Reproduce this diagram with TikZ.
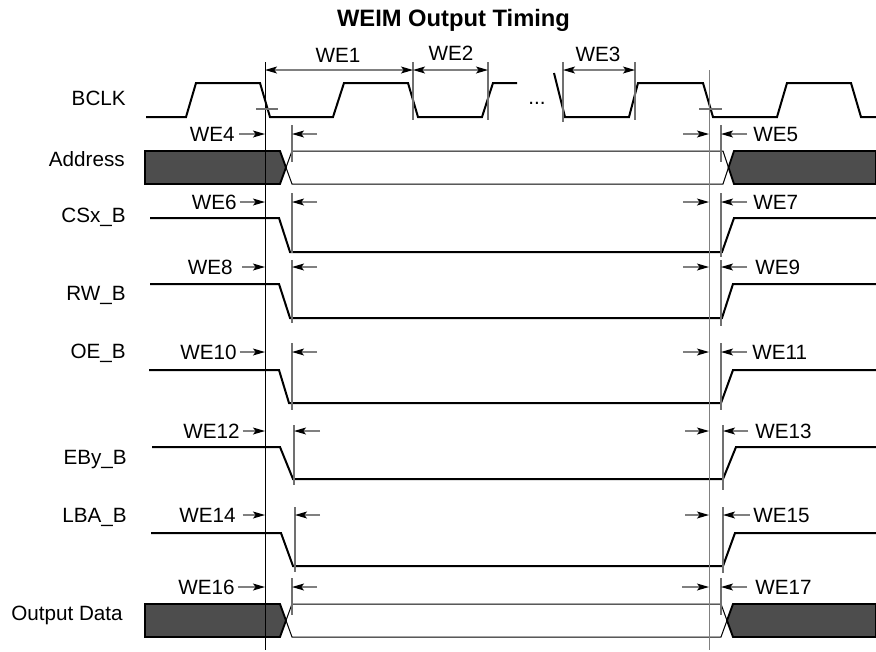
\documentclass[tikz,border=0pt]{standalone}
\usepackage{fontspec}
\setmainfont{Liberation Sans}
\usetikzlibrary{arrows.meta}
\definecolor{busfill}{HTML}{4D4D4D}
\definecolor{tickgray}{HTML}{707070}

\begin{document}
\begin{tikzpicture}[x=0.75pt, y=-0.75pt,
	sig/.style={line width=1.5pt},
	busline/.style={line width=0.75pt},
	busdark/.style={fill=busfill, draw=black, line width=1.4pt},
	refline/.style={line width=0.7pt},
	marker/.style={line width=0.8pt, draw=tickgray},
	dimarrow/.style={line width=0.9pt, draw=gray, -{Stealth[length=9pt, width=5.2pt, inset=2pt, black]}},
	twoarrow/.style={line width=0.9pt, draw=gray, {Stealth[length=9pt, width=5.2pt, inset=2pt, black]}-{Stealth[length=9pt, width=5.2pt, inset=2pt, black]}},
	siglabel/.style={anchor=base east, inner sep=0pt, font=\fontsize{15.5}{18}\selectfont},
	welabel/.style={inner sep=0pt, font=\fontsize{15.5}{18}\selectfont}]
	\useasboundingbox (0,0) rectangle (876,651);
	% Title
	\node[anchor=base, inner sep=0pt, font=\fontsize{17.8}{21}\selectfont\bfseries] (title) at (453.5,26) {WEIM Output Timing};
	% Signal names
	\node[siglabel] (bclk) at (126,105.4) {BCLK};
	\node[siglabel] (addr) at (125,166.4) {Address};
	\node[siglabel] (csx) at (126,222.4) {CSx\_B};
	\node[siglabel] (rw) at (126,300.4) {RW\_B};
	\node[siglabel] (oe) at (126,358.4) {OE\_B};
	\node[siglabel] (eby) at (127,464.4) {EBy\_B};
	\node[siglabel] (lba) at (127,522.4) {LBA\_B};
	\node[siglabel] (dout) at (123,620.4) {Output Data};
	% Clock
	\draw[sig] (146,117) -- (186,117) -- (196,83) -- (260,83) -- (270,117) -- (333,117) -- (344,83) -- (408,83) -- (418,117) -- (482,117) -- (493,83) -- (517,83);
	\draw[sig] (554,73) -- (565,117) -- (629,117) -- (638,83) -- (703,83) -- (713,117) -- (777,117) -- (787,83) -- (851,83) -- (861,117) -- (876,117);
	\node[welabel, anchor=base] (gap) at (537,104) {...};
	% Clock periods
	\draw[marker] (413,62) -- (413,120);
	\draw[marker] (488,62) -- (488,120);
	\draw[marker] (563,62) -- (563,122);
	\draw[marker] (635,62) -- (635,120);
	\draw[twoarrow] (265,70) -- (413,70);
	\draw[twoarrow] (413,70) -- (488,70);
	\draw[twoarrow] (563,70) -- (635,70);
	\node[welabel] (we1) at (338,55) {WE1};
	\node[welabel] (we2) at (451,53) {WE2};
	\node[welabel] (we3) at (598,54) {WE3};
	% Buses
	\draw[busdark] (145,151) -- (280,151) -- (286,167.5) -- (280,184) -- (145,184) -- cycle;
	\draw[busline] (286,167.5) -- (292,151) -- (723,151) -- (728.5,167.5) -- (723,184) -- (292,184) -- cycle;
	\draw[busdark] (728.5,167.5) -- (734,151) -- (876,151) -- (876,184) -- (734,184) -- cycle;
	\draw[busdark] (145,604) -- (280,604) -- (286,620.5) -- (280,637) -- (145,637) -- cycle;
	\draw[busline] (286,620.5) -- (292,604) -- (721,604) -- (727,620.5) -- (721,637) -- (292,637) -- cycle;
	\draw[busdark] (727,620.5) -- (733,604) -- (876,604) -- (876,637) -- (733,637) -- cycle;
	% Control signals
	\draw[sig] (150,218) -- (279,218) -- (290,252) -- (722,252) -- (734,218) -- (876,218);
	\draw[sig] (150,284) -- (279,284) -- (290,318) -- (722,318) -- (733,284) -- (876,284);
	\draw[sig] (149,370) -- (279,370) -- (289,403) -- (721,403) -- (733,370) -- (876,370);
	\draw[sig] (152,447) -- (280,447) -- (293,479) -- (723,479) -- (736,447) -- (876,447);
	\draw[sig] (151,533) -- (281,533) -- (293,566) -- (723,566) -- (735,533) -- (876,533);
	% Reference edges
	\coordinate (L) at (265,0);
	\coordinate (R) at (709,0);
	\draw[refline] (265,62) -- (265,650);
	\draw[refline, gray] (709,70) -- (709,650);
	\draw[marker] (256,109) -- (278,109);
	\draw[marker] (699,109) -- (722,109);
	% Address
	\node[welabel, anchor=east] (we4) at (235,134) {WE4};
	\draw[dimarrow] ([xshift=3pt]we4.east) -- (we4.east -| L);
	\draw[marker] (292,125) -- (292,162);
	\draw[dimarrow] (317,134) -- (292,134);
	\draw[dimarrow] (683,134) -- (R |- we4.east);
	\draw[marker] (721,125) -- (721,162);
	\node[welabel, anchor=west] (we5) at (753,134) {WE5};
	\draw[dimarrow] ([xshift=-4.5pt]we5.west) -- (721,134);
	% CSx_B
	\node[welabel, anchor=east] (we6) at (237,202) {WE6};
	\draw[dimarrow] ([xshift=2pt]we6.east) -- (we6.east -| L);
	\draw[marker] (292,193) -- (292,253);
	\draw[dimarrow] (317,202) -- (292,202);
	\draw[dimarrow] (683,202) -- (R |- we6.east);
	\draw[marker] (721,193) -- (721,257);
	\node[welabel, anchor=west] (we7) at (753,202) {WE7};
	\draw[dimarrow] ([xshift=-4.5pt]we7.west) -- (721,202);
	% RW_B
	\node[welabel, anchor=east] (we8) at (233,267) {WE8};
	\draw[dimarrow] ([xshift=7pt]we8.east) -- (we8.east -| L);
	\draw[marker] (292,260) -- (292,323);
	\draw[dimarrow] (317,267) -- (292,267);
	\draw[dimarrow] (683,267) -- (R |- we8.east);
	\draw[marker] (721,260) -- (721,326);
	\node[welabel, anchor=west] (we9) at (755,267) {WE9};
	\draw[dimarrow] ([xshift=-6pt]we9.west) -- (721,267);
	% OE_B
	\node[welabel, anchor=east] (we10) at (237,352) {WE10};
	\draw[dimarrow] ([xshift=2pt]we10.east) -- (we10.east -| L);
	\draw[marker] (292,343) -- (292,410);
	\draw[dimarrow] (317,352) -- (292,352);
	\draw[dimarrow] (683,352) -- (R |- we10.east);
	\draw[marker] (721,343) -- (721,410);
	\node[welabel, anchor=west] (we11) at (752,352) {WE11};
	\draw[dimarrow] ([xshift=-4pt]we11.west) -- (721,352);
	% EBy_B
	\node[welabel, anchor=east] (we12) at (240,431) {WE12};
	\draw[dimarrow] ([xshift=2pt]we12.east) -- (we12.east -| L);
	\draw[marker] (294,425) -- (294,485);
	\draw[dimarrow] (320,431) -- (294,431);
	\draw[dimarrow] (685,431) -- (R |- we12.east);
	\draw[marker] (723,425) -- (723,490);
	\node[welabel, anchor=west] (we13) at (755,431) {WE13};
	\draw[dimarrow] ([xshift=-5pt]we13.west) -- (723,431);
	% LBA_B
	\node[welabel, anchor=east] (we14) at (236,515) {WE14};
	\draw[dimarrow] ([xshift=5pt]we14.east) -- (we14.east -| L);
	\draw[marker] (295,507) -- (295,572);
	\draw[dimarrow] (320,515) -- (295,515);
	\draw[dimarrow] (685,515) -- (R |- we14.east);
	\draw[marker] (723,507) -- (723,573);
	\node[welabel, anchor=west] (we15) at (753,515) {WE15};
	\draw[dimarrow] ([xshift=-2.5pt]we15.west) -- (723,515);
	% Output Data
	\node[welabel, anchor=east] (we16) at (235,587) {WE16};
	\draw[dimarrow] ([xshift=2pt]we16.east) -- (we16.east -| L);
	\draw[marker] (292,578) -- (292,615);
	\draw[dimarrow] (317,587) -- (292,587);
	\draw[dimarrow] (682,587) -- (R |- we16.east);
	\draw[marker] (721,578) -- (721,615);
	\node[welabel, anchor=west] (we17) at (755,587) {WE17};
	\draw[dimarrow] ([xshift=-6pt]we17.west) -- (721,587);
\end{tikzpicture}
\end{document}
